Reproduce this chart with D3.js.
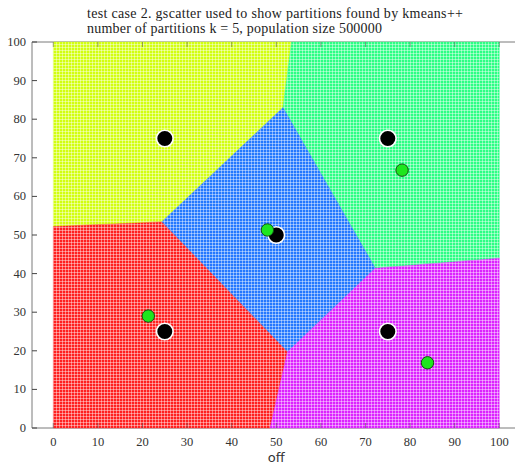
<!DOCTYPE html>
<html>
<head>
<meta charset="utf-8">
<script src="https://cdn.jsdelivr.net/npm/d3@7"></script>
<style>
  body { margin: 0; background: #fff; }
  svg { display: block; }
</style>
</head>
<body>
<div id="chart"></div>
<script>
// partitions (polygon outlines in data units)
const regionNames = ['yellow', 'green', 'blue', 'red', 'magenta'];
const regionColors = ['#d2ff10', '#2cff84', '#2478ff', '#ff2020', '#dc22ff'];
const regionPolys = [
  [[0, 100], [53.4, 100], [51.5, 83], [24.3, 53.4], [0, 52.2]],
  [[53.4, 100], [100, 100], [100, 44], [72.2, 41.4], [51.5, 83]],
  [[51.5, 83], [72.2, 41.4], [52.5, 19.7], [24.3, 53.4]],
  [[0, 52.2], [24.3, 53.4], [52.5, 19.7], [48.6, 0], [0, 0]],
  [[52.5, 19.7], [72.2, 41.4], [100, 44], [100, 0], [48.6, 0]]
];

// true centres (black) and kmeans++ centres (green)
const trueX = [25, 75, 50, 25, 75];
const trueY = [75, 75, 50, 25, 25];
const foundX = [78.2, 48.0, 21.3, 83.9];
const foundY = [66.8, 51.3, 29.0, 16.9];

const xTicks = d3.range(0, 101, 10);
const yTicks = d3.range(0, 101, 10);
const titleLines = [
  'test case 2. gscatter used to show partitions found by kmeans++',
  'number of partitions k = 5, population size 500000'
];
const titleWidths = [376, 295];
const xLabel = 'off';

const W = 515, H = 464;

const svg = d3.select('#chart').append('svg')
  .attr('width', W)
  .attr('height', H);

const x = d3.scaleLinear().domain([0, 100]).range([53.3, 499.3]);
const y = d3.scaleLinear().domain([0, 100]).range([428, 42]);

const boxLeft = 32, boxRight = 522;
const axisColor = '#7a7a7a';

// texture for the dense scatter
const defs = svg.append('defs');
regionColors.forEach((c, i) => {
  const p = defs.append('pattern')
    .attr('id', 'pat-' + regionNames[i])
    .attr('patternUnits', 'userSpaceOnUse')
    .attr('width', 3)
    .attr('height', 3);
  p.append('rect').attr('width', 3).attr('height', 3).attr('fill', c);
  p.append('rect').attr('x', 2).attr('width', 1).attr('height', 3)
    .attr('fill', '#fff').attr('opacity', 0.42);
  p.append('rect').attr('y', 2).attr('width', 3).attr('height', 1)
    .attr('fill', '#fff').attr('opacity', 0.42);
});

// axes box
svg.append('line')
  .attr('x1', boxLeft).attr('x2', boxRight)
  .attr('y1', y(0)).attr('y2', y(0))
  .attr('stroke', axisColor).attr('stroke-width', 1);
svg.append('line')
  .attr('x1', boxLeft).attr('x2', boxRight)
  .attr('y1', y(100)).attr('y2', y(100))
  .attr('stroke', axisColor).attr('stroke-width', 1);
svg.append('line')
  .attr('x1', boxLeft).attr('x2', boxLeft)
  .attr('y1', y(0)).attr('y2', y(100))
  .attr('stroke', axisColor).attr('stroke-width', 1);

// partitions
const line = d3.line().x(d => x(d[0])).y(d => y(d[1]));
svg.append('g').selectAll('path')
  .data(regionPolys)
  .join('path')
  .attr('d', d => line(d) + 'Z')
  .attr('fill', (d, i) => 'url(#pat-' + regionNames[i] + ')')
  .attr('stroke', (d, i) => regionColors[i])
  .attr('stroke-width', 0.6)
  .attr('stroke-opacity', 0.6);

// ticks
const tickG = svg.append('g')
  .attr('stroke', '#555')
  .attr('stroke-opacity', 0.55)
  .attr('stroke-width', 1);
xTicks.forEach(t => {
  tickG.append('line')
    .attr('x1', x(t)).attr('x2', x(t))
    .attr('y1', y(0)).attr('y2', y(0) - 5);
  tickG.append('line')
    .attr('x1', x(t)).attr('x2', x(t))
    .attr('y1', y(100)).attr('y2', y(100) + 5);
});
yTicks.forEach(t => {
  svg.append('line')
    .attr('x1', boxLeft).attr('x2', boxLeft + 5)
    .attr('y1', y(t)).attr('y2', y(t))
    .attr('stroke', '#444').attr('stroke-width', 1);
});

// tick labels
const serif = '"Liberation Serif", "DejaVu Serif", serif';
svg.append('g').selectAll('text')
  .data(xTicks)
  .join('text')
  .attr('x', d => x(d))
  .attr('y', 446)
  .attr('text-anchor', 'middle')
  .attr('font-family', serif)
  .attr('font-size', 12.5)
  .attr('fill', '#333')
  .text(d => d);
svg.append('g').selectAll('text')
  .data(yTicks)
  .join('text')
  .attr('x', 26)
  .attr('y', d => y(d) + 4)
  .attr('text-anchor', 'end')
  .attr('font-family', serif)
  .attr('font-size', 12.5)
  .attr('fill', '#333')
  .text(d => d);

// true centres
svg.append('g').selectAll('circle')
  .data(trueX.map((v, i) => [v, trueY[i]]))
  .join('circle')
  .attr('cx', d => x(d[0]))
  .attr('cy', d => y(d[1]))
  .attr('r', 8.3)
  .attr('fill', '#000')
  .attr('stroke', '#fff')
  .attr('stroke-width', 1.6);

// found centres
svg.append('g').selectAll('circle')
  .data(foundX.map((v, i) => [v, foundY[i]]))
  .join('circle')
  .attr('cx', d => x(d[0]))
  .attr('cy', d => y(d[1]))
  .attr('r', 6.2)
  .attr('fill', '#1ee61e')
  .attr('stroke', '#124d12')
  .attr('stroke-width', 1);

// title
svg.append('g').selectAll('text')
  .data(titleLines)
  .join('text')
  .attr('x', 87)
  .attr('y', (d, i) => 18 + i * 15)
  .attr('font-family', serif)
  .attr('font-size', 14)
  .attr('textLength', (d, i) => titleWidths[i])
  .attr('lengthAdjust', 'spacing')
  .attr('fill', '#222')
  .text(d => d);

// x label
svg.append('text')
  .attr('x', x(50))
  .attr('y', 462)
  .attr('text-anchor', 'middle')
  .attr('font-family', '"DejaVu Sans", sans-serif')
  .attr('font-size', 13)
  .attr('fill', '#333')
  .text(xLabel);
</script>
</body>
</html>
